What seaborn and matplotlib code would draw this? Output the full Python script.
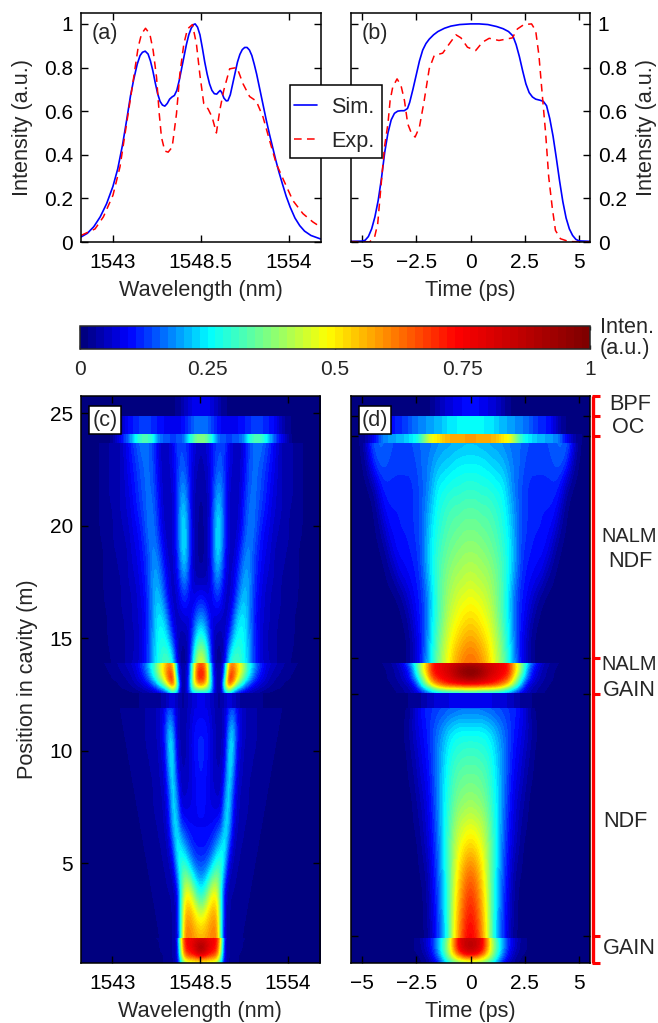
import numpy as np
import matplotlib
matplotlib.use('Agg')
import matplotlib.pyplot as plt
import seaborn as sns
from matplotlib.colors import LinearSegmentedColormap, Normalize
from matplotlib.lines import Line2D
from matplotlib.patches import Rectangle
from matplotlib.cm import ScalarMappable

# ===== Curves, panel (a) =====
wl_sim = [1541, 1541.4, 1541.8, 1542.2, 1542.6, 1543, 1543.3, 1543.6, 1543.85, 1544.1, 1544.3, 1544.52, 1544.7, 1544.85,
          1545.02, 1545.2, 1545.35, 1545.5, 1545.65, 1545.8, 1545.95, 1546.1, 1546.25, 1546.4, 1546.55, 1546.7, 1546.85,
          1547, 1547.15, 1547.3, 1547.45, 1547.6, 1547.75, 1547.9, 1548.05, 1548.15, 1548.3, 1548.45, 1548.6, 1548.75,
          1548.9, 1549.05, 1549.2, 1549.35, 1549.5, 1549.62, 1549.72, 1549.82, 1549.95, 1550.1, 1550.2, 1550.35, 1550.5,
          1550.65, 1550.8, 1550.95, 1551.1, 1551.25, 1551.4, 1551.55, 1551.7, 1551.85, 1552, 1552.2, 1552.4, 1552.6,
          1552.8, 1553, 1553.2, 1553.4, 1553.6, 1553.85, 1554.1, 1554.4, 1554.7, 1555, 1555.4, 1556]
int_sim_a = [0.023, 0.04, 0.07, 0.115, 0.175, 0.255, 0.335, 0.445, 0.555, 0.67, 0.745, 0.815, 0.855, 0.87,
             0.875, 0.862, 0.83, 0.785, 0.73, 0.68, 0.645, 0.628, 0.623, 0.635, 0.655, 0.665, 0.672,
             0.695, 0.74, 0.795, 0.85, 0.905, 0.95, 0.98, 0.997, 1.0, 0.985, 0.95, 0.89, 0.825,
             0.77, 0.725, 0.695, 0.68, 0.678, 0.688, 0.695, 0.685, 0.66, 0.647, 0.648, 0.675, 0.725,
             0.775, 0.825, 0.86, 0.882, 0.892, 0.892, 0.88, 0.855, 0.815, 0.77, 0.70, 0.63, 0.56,
             0.495, 0.435, 0.375, 0.32, 0.27, 0.21, 0.16, 0.11, 0.075, 0.05, 0.03, 0.014]
wl_exp = [1541.0, 1541.88, 1542.4, 1543, 1543.44, 1543.85, 1544.27, 1544.58, 1544.79, 1545.04, 1545.31, 1545.52,
          1545.73, 1545.9, 1546.04, 1546.25, 1546.46, 1546.71, 1546.98, 1547.19, 1547.44, 1547.67, 1547.98, 1548.23,
          1548.44, 1548.69, 1548.96, 1549.21, 1549.48, 1549.69, 1549.94, 1550.31, 1550.77, 1551.15, 1551.56, 1551.98,
          1552.4, 1552.81, 1553.23, 1553.65, 1554.27, 1554.9, 1555.52, 1556.0]
int_exp_a = [0.03, 0.06, 0.115, 0.214, 0.344, 0.54, 0.74, 0.893, 0.954, 0.98, 0.954, 0.878,
             0.756, 0.588, 0.48, 0.417, 0.412, 0.435, 0.588, 0.77, 0.908, 0.977, 0.997, 0.908,
             0.77, 0.634, 0.61, 0.573, 0.50, 0.603, 0.695, 0.794, 0.80, 0.725, 0.667, 0.646,
             0.573, 0.466, 0.359, 0.29, 0.19, 0.13, 0.092, 0.069]

# ===== Curves, panel (b) =====
t_sim = [-5.5, -5, -4.85, -4.7, -4.55, -4.4, -4.25, -4.1, -3.95, -3.8, -3.65, -3.5, -3.35, -3.2, -3.05, -2.9, -2.8,
         -2.65, -2.5, -2.35, -2.2, -2.05, -1.9, -1.7, -1.5, -1.2, -0.9, -0.5, 0, 0.4, 0.8, 1.2, 1.5, 1.75, 1.95, 2.1,
         2.25, 2.4, 2.55, 2.7, 2.85, 3.0, 3.2, 3.35, 3.5, 3.65, 3.8, 3.95, 4.1, 4.25, 4.4, 4.55, 4.7, 4.85, 5, 5.5]
int_sim_b = [0.003, 0.004, 0.008, 0.025, 0.06, 0.115, 0.19, 0.29, 0.41, 0.5, 0.56, 0.59, 0.6, 0.602, 0.602, 0.612, 0.64,
             0.7, 0.765, 0.83, 0.88, 0.91, 0.93, 0.95, 0.965, 0.98, 0.99, 0.997, 1.0, 1.0, 0.997, 0.988, 0.978, 0.965,
             0.945, 0.905, 0.85, 0.785, 0.725, 0.685, 0.665, 0.655, 0.65, 0.645, 0.625, 0.565, 0.485, 0.385, 0.28, 0.185,
             0.11, 0.06, 0.03, 0.012, 0.005, 0.003]
t_exp = [-5.5, -4.65, -4.42, -4.27, -4.11, -3.96, -3.8, -3.7, -3.58, -3.38, -3.2, -3.04, -2.89, -2.74, -2.55, -2.35,
         -2.13, -1.9, -1.67, -1.28, -0.98, -0.67, -0.44, -0.14, 0.24, 0.55, 0.86, 1.31, 1.93, 2.16, 2.46, 2.81, 3.0,
         3.15, 3.3, 3.46, 3.6, 3.76, 3.91, 4.14, 4.53, 5.5]
int_exp_b = [0.002, 0.0, 0.02, 0.084, 0.267, 0.435, 0.542, 0.649, 0.71, 0.748, 0.718, 0.649, 0.542, 0.504, 0.481, 0.527,
             0.649, 0.794, 0.855, 0.866, 0.908, 0.95, 0.936, 0.893, 0.878, 0.916, 0.934, 0.924, 0.936, 0.977, 0.997, 1.0,
             0.969, 0.855, 0.679, 0.496, 0.298, 0.16, 0.053, 0.015, 0.002, 0.0]

# ===== Panel (c): intensity (%) read per row, offset from 1548.5 nm in 0.25 nm steps =====
c_bpf = [[9, 9, 8, 7, 5, 3, 2], [9, 9, 8, 7, 5, 3, 2]]
c_oc = [[17, 17, 15, 13, 11, 9, 9, 9, 9, 9, 10, 11, 12, 13, 13, 13, 12, 11, 10, 8, 5, 3, 2],
        [17, 17, 15, 13, 11, 9, 9, 9, 9, 9, 10, 11, 12, 13, 13, 13, 12, 11, 10, 8, 5, 3, 2]]
c_band = [[38, 36, 32, 26, 18, 15, 14, 14, 14, 15, 16, 20, 27, 31, 33, 31, 27, 22, 17, 13, 9, 6, 3],
          [38, 36, 32, 26, 18, 15, 14, 14, 14, 15, 16, 20, 27, 31, 33, 31, 27, 22, 17, 13, 9, 6, 3]]
c_nalm_ndf = [[5, 6, 8, 11, 13, 14, 13, 9, 6, 5, 6, 9, 14, 16, 17, 17, 15, 13, 10, 7, 5, 4, 4, 3, 3, 2],
              [4, 5, 7, 11, 14, 15, 12, 8, 6, 5, 6, 10, 14, 16, 16, 15, 13, 11, 9, 7, 5, 4, 4, 3, 3, 2],
              [3, 4, 6, 12, 18, 18, 12, 7, 5, 5, 7, 11, 15, 16, 16, 14, 12, 10, 8, 6, 5, 4, 4, 3, 3, 2],
              [3, 3, 6, 14, 22, 21, 12, 6, 5, 5, 8, 13, 16, 17, 15, 13, 11, 9, 7, 6, 5, 4, 3, 3, 3, 2],
              [3, 3, 6, 15, 25, 23, 12, 6, 5, 6, 9, 14, 17, 17, 14, 11, 9, 8, 6, 5, 4, 4, 3, 3, 2, 2],
              [3, 3, 6, 15, 25, 21, 11, 6, 5, 8, 13, 17, 18, 15, 12, 10, 8, 7, 5, 4, 4, 3, 3, 3, 2],
              [3, 3, 6, 13, 20, 16, 9, 5, 7, 11, 16, 20, 19, 15, 11, 9, 7, 6, 5, 4, 3, 3, 3, 2, 2],
              [10, 9, 7, 10, 13, 11, 6, 5, 8, 14, 20, 22, 19, 14, 10, 8, 6, 5, 4, 4, 3, 3, 2, 2, 2],
              [19, 17, 11, 7, 7, 6, 5, 7, 14, 22, 25, 24, 19, 13, 9, 7, 6, 5, 4, 3, 3, 3, 2, 2],
              [31, 27, 16, 6, 3, 3, 6, 13, 22, 27, 27, 25, 20, 14, 10, 7, 5, 4, 4, 3, 3, 2, 2, 2],
              [49, 44, 26, 6, 2, 2, 9, 27, 34, 33, 30, 26, 20, 14, 10, 7, 6, 5, 4, 3, 3, 2, 2]]
c_nalm_gain = [[65, 60, 35, 10, 3, 3, 15, 55, 60, 52, 45, 36, 28, 22, 16, 12, 9, 7, 6, 5, 4, 3, 3, 2, 2],
               [72, 66, 38, 10, 3, 3, 18, 62, 66, 55, 47, 37, 28, 21, 15, 11, 8, 6, 5, 4, 3, 3, 2, 2],
               [73, 68, 40, 12, 3, 3, 25, 72, 68, 52, 42, 32, 24, 17, 12, 9, 7, 5, 4, 3, 3, 2, 2],
               [60, 55, 40, 14, 3, 3, 40, 68, 52, 38, 28, 20, 14, 10, 8, 6, 5, 4, 3, 2, 2],
               [20, 21, 22, 12, 3, 3, 18, 24, 14, 8, 6, 5, 4, 3, 3, 2, 2]]
c_gap = [[8, 8, 7, 5, 3, 3, 5, 8, 6, 4, 3, 2, 2, 2, 2, 2],
         [8, 8, 7, 5, 3, 3, 5, 8, 6, 4, 3, 2, 2, 2, 2, 2]]
c_ndf = [[8, 8, 7, 5, 4, 4, 6, 11, 13, 9, 6, 5, 4, 4, 3, 3, 3, 2, 2, 2, 2],
         [11, 11, 9, 6, 4, 4, 6, 20, 24, 12, 7, 5, 4, 4, 3, 3, 3, 2, 2, 2],
         [12, 11, 9, 6, 4, 4, 8, 25, 24, 9, 6, 4, 4, 3, 3, 3, 2, 2, 2],
         [11, 10, 8, 6, 5, 5, 12, 26, 18, 7, 5, 4, 3, 3, 3, 2, 2, 2],
         [10, 10, 8, 7, 6, 6, 19, 25, 12, 6, 4, 4, 3, 3, 2, 2, 2],
         [9, 9, 9, 9, 10, 12, 24, 23, 9, 5, 4, 3, 3, 2, 2, 2],
         [10, 10, 11, 14, 19, 25, 27, 14, 6, 4, 3, 3, 2, 2, 2],
         [15, 16, 20, 27, 33, 31, 20, 6, 4, 3, 3, 2, 2, 2],
         [25, 30, 40, 48, 46, 28, 7, 3, 3, 3, 2, 2, 2],
         [46, 49, 55, 58, 57, 30, 6, 3, 3, 2, 2, 2],
         [57, 58, 60, 62, 62, 30, 5, 3, 3, 2, 2]]
c_gain = [[80, 78, 76, 75, 74, 50, 6, 3, 3, 3, 2, 2],
          [88, 86, 80, 76, 72, 45, 5, 3, 3, 2, 2],
          [92, 86, 78, 74, 70, 42, 5, 3, 3, 2, 2],
          [75, 72, 68, 65, 60, 35, 5, 3, 3, 2],
          [45, 44, 43, 42, 40, 25, 4, 3, 2, 2]]

# ===== Panel (d): intensity (%) read per row, offset from 0 ps in 0.25 ps steps =====
d_bpf = [[10, 10, 9, 8, 7, 6, 4, 2], [10, 10, 9, 8, 7, 6, 4, 2]]
d_oc = [[26, 26, 25, 25, 24, 22, 21, 20, 19, 18, 17, 15, 13, 12, 11, 9, 5, 2],
        [26, 26, 25, 25, 24, 22, 21, 20, 19, 18, 17, 15, 13, 12, 11, 9, 5, 2]]
d_band = [[58, 58, 57, 57, 56, 54, 50, 48, 42, 32, 26, 24, 22, 21, 20, 19, 18, 13, 8, 4, 2],
          [58, 58, 57, 57, 56, 54, 50, 48, 42, 32, 26, 24, 22, 21, 20, 19, 18, 13, 8, 4, 2]]
d_nalm_ndf = [[21, 21, 20, 20, 19, 19, 18, 17, 16, 16, 15, 14, 14, 14, 14, 15, 16, 16, 15, 8, 2],
              [25, 25, 25, 24, 23, 22, 21, 19, 17, 16, 14, 13, 13, 13, 13, 14, 15, 15, 11, 4],
              [29, 29, 28, 28, 27, 26, 25, 21, 17, 15, 13, 12, 12, 12, 12, 12, 12, 8, 3],
              [33, 33, 32, 32, 31, 29, 27, 23, 19, 15, 13, 12, 12, 11, 11, 11, 9, 4],
              [36, 36, 35, 34, 33, 31, 28, 25, 20, 15, 13, 12, 11, 11, 10, 9, 5, 2],
              [39, 39, 38, 37, 35, 33, 30, 26, 21, 15, 12, 11, 10, 10, 9, 5, 2],
              [43, 42, 41, 40, 38, 35, 31, 26, 20, 14, 11, 10, 9, 8, 4, 2],
              [47, 46, 45, 43, 40, 36, 31, 24, 17, 12, 10, 8, 5, 2],
              [52, 51, 49, 46, 43, 37, 31, 25, 17, 12, 9, 5, 2],
              [58, 57, 54, 51, 46, 41, 34, 26, 18, 11, 7, 3],
              [64, 63, 60, 56, 49, 43, 36, 28, 20, 12, 7, 3]]
d_nalm_gain = [[85, 85, 84, 82, 80, 78, 76, 70, 55, 42, 30, 20, 12, 7, 4, 3, 2],
               [100, 98, 94, 88, 84, 80, 76, 72, 58, 44, 28, 13, 8, 5, 3, 2],
               [95, 93, 90, 85, 80, 76, 73, 68, 50, 35, 22, 12, 7, 4, 3, 2],
               [74, 73, 72, 71, 70, 67, 60, 50, 38, 26, 12, 6, 4, 3, 2],
               [22, 22, 21, 21, 20, 19, 18, 16, 12, 8, 6, 4, 3, 2]]
d_gap = [[9, 9, 8, 8, 8, 7, 7, 6, 5, 3, 2, 2], [9, 9, 8, 8, 8, 7, 7, 6, 5, 3, 2, 2]]
d_ndf = [[15, 15, 15, 14, 14, 13, 13, 12, 12, 10, 7, 3],
         [26, 26, 26, 25, 23, 20, 17, 14, 11, 9, 7, 4, 2],
         [31, 31, 30, 29, 26, 22, 18, 14, 10, 8, 5, 3],
         [35, 35, 34, 32, 28, 23, 18, 13, 9, 7, 4, 2],
         [39, 38, 37, 34, 29, 24, 18, 12, 8, 5, 3],
         [45, 44, 42, 38, 31, 24, 17, 11, 7, 4, 2],
         [53, 51, 47, 41, 32, 24, 16, 10, 6, 3],
         [62, 59, 52, 43, 32, 23, 15, 9, 4, 2],
         [68, 64, 56, 45, 32, 22, 14, 8, 3],
         [72, 68, 59, 47, 32, 21, 13, 7, 3],
         [76, 72, 62, 48, 32, 20, 13, 6, 2]]
d_gain = [[84, 84, 78, 62, 40, 28, 19, 12, 7, 4, 2],
          [88, 86, 78, 62, 42, 30, 20, 12, 7, 3, 2],
          [86, 84, 76, 60, 42, 30, 19, 11, 6, 3, 2],
          [70, 68, 60, 50, 38, 26, 16, 9, 4, 2],
          [38, 37, 35, 32, 26, 18, 10, 5, 3]]

# section limits in cavity position (m), bottom and top
section_limits = [(0.556, 1.68), (1.68, 11.9), (11.9, 12.55), (12.55, 13.89),
                  (13.89, 23.68), (23.68, 24.05), (24.05, 24.87), (24.87, 25.77)]
c_sections = [c_gain, c_ndf, c_gap, c_nalm_gain, c_nalm_ndf, c_band, c_oc, c_bpf]
d_sections = [d_gain, d_ndf, d_gap, d_nalm_gain, d_nalm_ndf, d_band, d_oc, d_bpf]

# ===== Ticks and labels =====
wl_ticks = [1543, 1548.5, 1554]
wl_labels = ['1543', '1548.5', '1554']
t_ticks = [-5, -2.5, 0, 2.5, 5]
t_labels = ['\u22125', '\u22122.5', '0', '2.5', '5']
int_ticks = [0, 0.2, 0.4, 0.6, 0.8, 1]
int_labels = ['0', '0.2', '0.4', '0.6', '0.8', '1']
pos_ticks = [5, 10, 15, 20, 25]
bracket_pos = [25.77, 24.87, 24.0, 14.13, 12.5, 1.77, 0.556]
cbar_ticks = [0, 0.25, 0.5, 0.75, 1]
cbar_labels = ['0', '0.25', '0.5', '0.75', '1']

W, H = 658, 1023
FS = 15.6
TS = 15

sns.set_style('ticks')
plt.rcParams['font.family'] = ['Liberation Sans', 'DejaVu Sans']
plt.rcParams['axes.linewidth'] = 1.1

# colour bar of the figure: jet squeezed towards the low end, 64 steps
jet2 = LinearSegmentedColormap.from_list('jet2', [
    (0, (0, 0, 0.5)), (0.09, (0, 0, 1)), (0.25, (0, 1, 1)),
    (0.485, (1, 1, 0)), (0.74, (1, 0, 0)), (1, (0.5, 0, 0))], N=64)
norm = Normalize(0, 1)


def rect(l, t, r, b):
    return [l / W, 1 - b / H, (r - l) / W, (b - t) / H]


def style_ax(ax, xticks, xlabels, xlim, xlabel, ylim):
    ax.set_xlim(*xlim)
    ax.set_ylim(*ylim)
    ax.set_xticks(xticks)
    ax.set_xticklabels(xlabels)
    ax.set_xlabel(xlabel, fontsize=FS, labelpad=6)
    ax.tick_params(direction='in', top=True, bottom=True, left=True, right=True,
                   length=5, width=1, labelsize=TS, color='k', labelcolor='k')
    ax.tick_params(axis='x', pad=8)
    ax.tick_params(axis='y', pad=5.5)
    for s in ax.spines.values():
        s.set_color('k')


def draw_sections(ax, centre, step, sections, xlim):
    # rows are mirrored around the centre, image interpolates between read values
    n = max(len(r) for sec in sections for r in sec) + 5
    half = (n - 0.5) * step
    for (y0, y1), sec in zip(section_limits, sections):
        rows = np.array([list(r) + [1] * (n - len(r)) for r in sec], dtype=float) / 100
        full = np.hstack([rows[:, :0:-1], rows])
        dy = (y1 - y0) / (len(sec) - 1)
        im = ax.imshow(full, cmap=jet2, norm=norm, origin='upper', aspect='auto',
                       extent=(centre - half, centre + half, y0 - dy / 2, y1 + dy / 2),
                       interpolation='bicubic', interpolation_stage='data')
        im.set_clip_path(Rectangle((xlim[0], y0), xlim[1] - xlim[0], y1 - y0, transform=ax.transData))


fig = plt.figure(figsize=(W / 100, H / 100), dpi=100)

# (a)
ax_a = fig.add_axes(rect(81, 13, 320.5, 242))
sns.lineplot(x=wl_sim, y=int_sim_a, ax=ax_a, color=(0, 0, 1), lw=1.2, sort=False, errorbar=None)
sns.lineplot(x=wl_exp, y=int_exp_a, ax=ax_a, color=(1, 0, 0), lw=1.1, sort=False, errorbar=None,
             linestyle=(0, (5, 3.5)))
style_ax(ax_a, wl_ticks, wl_labels, (1541, 1556), 'Wavelength (nm)', (0, 1.05))
ax_a.set_yticks(int_ticks)
ax_a.set_yticklabels(int_labels)
ax_a.set_ylabel('Intensity (a.u.)', fontsize=FS, labelpad=8)
fig.text(105 / W, 1 - 33 / H, '(a)', fontsize=FS, ha='center', va='center')

# (b)
ax_b = fig.add_axes(rect(351, 13, 590, 242))
sns.lineplot(x=t_sim, y=int_sim_b, ax=ax_b, color=(0, 0, 1), lw=1.2, sort=False, errorbar=None)
sns.lineplot(x=t_exp, y=int_exp_b, ax=ax_b, color=(1, 0, 0), lw=1.1, sort=False, errorbar=None,
             linestyle=(0, (5, 3.5)))
style_ax(ax_b, t_ticks, t_labels, (-5.5, 5.5), 'Time (ps)', (0, 1.05))
ax_b.set_yticks(int_ticks)
ax_b.set_yticklabels(int_labels)
ax_b.yaxis.set_label_position('right')
ax_b.tick_params(labelleft=False, labelright=True)
ax_b.set_ylabel('Intensity (a.u.)', fontsize=FS, labelpad=7)
fig.text(375 / W, 1 - 33 / H, '(b)', fontsize=FS, ha='center', va='center')

# legend over both panels, box drawn apart to get its padding right
fig.add_artist(Rectangle((290 / W, 1 - 158 / H), 92 / W, 73 / H, transform=fig.transFigure,
                         fc='w', ec='k', lw=1.1, zorder=4))
handles = [Line2D([], [], color=(0, 0, 1), lw=1.2),
           Line2D([], [], color=(1, 0, 0), lw=1.1, linestyle=(0, (5, 3.5)))]
leg = fig.legend(handles, ['Sim.', 'Exp.'], loc='upper left', bbox_to_anchor=(294 / W, 1 - 97 / H),
                 fontsize=FS, frameon=False, handlelength=1.06, handletextpad=0.65,
                 labelspacing=0.6, borderpad=0, borderaxespad=0)
leg.set_zorder(5)

# colour bar
cax = fig.add_axes(rect(80, 326, 590, 349))
cb = fig.colorbar(ScalarMappable(norm=norm, cmap=jet2), cax=cax, orientation='horizontal')
cb.set_ticks(cbar_ticks)
cb.set_ticklabels(cbar_labels)
cb.outline.set_linewidth(1.1)
cax.tick_params(axis='x', direction='in', top=True, bottom=True, length=3, width=1, labelsize=TS, pad=8)
fig.text(600 / W, 1 - 338 / H, 'Inten.\n(a.u.)', fontsize=FS, ha='left', va='center', linespacing=1.05)

# (c)
ax_c = fig.add_axes(rect(80.5, 395.7, 320, 963))
ax_c.set_facecolor(jet2(0))
draw_sections(ax_c, 1548.5, 0.25, c_sections, (1541, 1556))
style_ax(ax_c, wl_ticks, wl_labels, (1541, 1556), 'Wavelength (nm)', (0.556, 25.77))
ax_c.set_yticks(pos_ticks)
ax_c.set_ylabel('Position in cavity (m)', fontsize=FS, labelpad=8)

# (d)
ax_d = fig.add_axes(rect(351, 395.7, 590, 963))
ax_d.set_facecolor(jet2(0))
draw_sections(ax_d, 0, 0.25, d_sections, (-5.5, 5.5))
style_ax(ax_d, t_ticks, t_labels, (-5.5, 5.5), 'Time (ps)', (0.556, 25.77))
ax_d.set_yticks(bracket_pos[1:-1])
ax_d.set_yticklabels([])

box = dict(boxstyle='square,pad=0.14', fc='w', ec='k', lw=1.1)
fig.text(105 / W, 1 - 420 / H, '(c)', fontsize=FS, ha='center', va='center', bbox=box)
fig.text(375 / W, 1 - 420 / H, '(d)', fontsize=FS, ha='center', va='center', bbox=box)

# red brackets right of (d)
trans = ax_d.get_yaxis_transform()
ax_d.plot([1.014, 1.014], [bracket_pos[0], bracket_pos[-1]], color=(1, 0, 0), lw=2.4,
          transform=trans, clip_on=False, solid_capstyle='butt')
for y in bracket_pos:
    ax_d.plot([1.008, 1.042], [y, y], color=(1, 0, 0), lw=2.2, transform=trans, clip_on=False,
              solid_capstyle='butt')

section_text = [('BPF', 630, 404, 'center', FS), ('OC', 628, 427, 'center', FS), ('NALM', 601, 536.7, 'left', 14.4),
                ('NDF', 630, 561.7, 'center', FS), ('NALM', 601, 665, 'left', 14.4), ('GAIN', 603, 690, 'left', FS),
                ('NDF', 603, 821.7, 'left', FS), ('GAIN', 603, 948, 'left', FS)]
for s, px, py, ha, fs in section_text:
    fig.text(px / W, 1 - py / H, s, fontsize=fs, ha=ha, va='center')

fig.savefig('out.png', dpi=100)
